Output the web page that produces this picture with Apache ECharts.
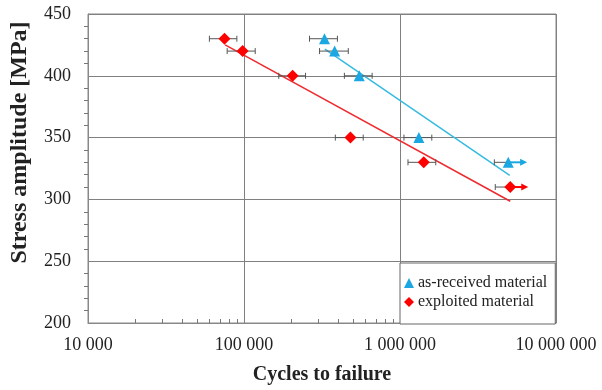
<!DOCTYPE html>
<html>
<head>
<meta charset="utf-8">
<script src="https://cdn.jsdelivr.net/npm/echarts@6/dist/echarts.min.js"></script>
<style>
  html, body { margin: 0; padding: 0; background: #fff; }
  #chart { width: 602px; height: 390px; }
</style>
</head>
<body>
<div id="chart"></div>
<script>
// exploited material (red diamonds)
var redCycles = [75000, 98000, 205000, 481000, 1420000, 5090000];
var redStress = [430, 420, 400, 350, 330, 310];
var redLow = [60000, 78000, 167000, 385000, 1125000, 4080000];
var redHigh = [90000, 118000, 248000, 581000, 1695000, 6640000];
var redRunout = [0, 0, 0, 0, 0, 1];
var redTrend = [[75700, 425], [5090000, 298.5]];

// as-received material (blue triangles)
var blueCycles = [328000, 381000, 548000, 1321000, 4944000];
var blueStress = [430, 420, 400, 350, 330];
var blueLow = [263000, 305000, 440000, 1060000, 4025000];
var blueHigh = [397000, 466000, 663000, 1599000, 6530000];
var blueRunout = [0, 0, 0, 0, 1];
var blueTrend = [[330000, 421.5], [5050000, 319.5]];

var decades = [10000, 100000, 1000000];
var minorSteps = [2, 3, 4, 5, 6, 7, 8, 9];

(function() {
  var font = 'Liberation Serif';
  var ink = '#222';
  var gridCol = '#808080';
  var redMark = '#ff0000';
  var redLine = '#ee2b2f';
  var blueMark = '#1aa7e2';
  var blueLine = '#35bbe0';

  var minorX = [];
  decades.forEach(function(d) {
    minorSteps.forEach(function(m) { minorX.push(d * m); });
  });

  function pairs(xs, ys) {
    return xs.map(function(x, i) { return [x, ys[i]]; });
  }
  function barRows(xs, ys, lo, hi, ro) {
    return xs.map(function(x, i) { return [x, ys[i], lo[i], hi[i], ro[i]]; });
  }
  function spaced(v) {
    return String(Math.round(v)).replace(/\B(?=(\d{3})+(?!\d))/g, ' ');
  }

  function errorBar(color) {
    return function(params, api) {
      var y = api.value(1);
      var c = api.coord([api.value(0), y]);
      var l = api.coord([api.value(2), y]);
      var h = api.coord([api.value(3), y]);
      var runout = api.value(4);
      var bar = { stroke: '#555', lineWidth: 1 };
      var kids = [
        { type: 'line', shape: { x1: l[0], y1: l[1] - 3, x2: l[0], y2: l[1] + 3 }, style: bar }
      ];
      if (runout) {
        kids.push({ type: 'line', shape: { x1: l[0], y1: l[1], x2: c[0], y2: c[1] }, style: bar });
        kids.push({ type: 'line', shape: { x1: c[0], y1: c[1], x2: h[0] - 5, y2: h[1] }, style: { stroke: color, lineWidth: 2 } });
        kids.push({ type: 'polygon', shape: { points: [[h[0], h[1]], [h[0] - 7, h[1] - 3.5], [h[0] - 7, h[1] + 3.5]] }, style: { fill: color } });
      } else {
        kids.push({ type: 'line', shape: { x1: l[0], y1: l[1], x2: h[0], y2: h[1] }, style: bar });
        kids.push({ type: 'line', shape: { x1: h[0], y1: h[1] - 3, x2: h[0], y2: h[1] + 3 }, style: bar });
      }
      return { type: 'group', children: kids };
    };
  }

  var chart = echarts.init(document.getElementById('chart'), null, { renderer: 'canvas' });
  chart.setOption({
    animation: false,
    textStyle: { fontFamily: font, color: ink },
    grid: {
      left: 85, right: 46, top: 14, bottom: 66,
      show: true, borderColor: '#888', borderWidth: 1
    },
    legend: {
      data: ['as-received material', 'exploited material'],
      orient: 'vertical',
      left: 400,
      top: 263,
      padding: [12, 8, 14, 4],
      itemGap: 3,
      itemWidth: 10,
      itemHeight: 10,
      backgroundColor: '#fff',
      borderColor: '#666',
      borderWidth: 1,
      borderRadius: 0,
      textStyle: { fontFamily: font, fontSize: 16, color: ink, padding: [0, 0, 0, -1] }
    },
    xAxis: [
      {
        type: 'log',
        logBase: 10,
        min: 10000,
        max: 10000000,
        name: 'Cycles to failure',
        nameLocation: 'middle',
        nameGap: 42,
        nameTextStyle: { fontFamily: font, fontSize: 20, fontWeight: 'bold', color: ink },
        axisLine: { lineStyle: { color: '#888' } },
        axisTick: { show: false },
        axisLabel: { fontFamily: font, fontSize: 18, color: ink, margin: 13, formatter: spaced },
        splitLine: { show: true, lineStyle: { color: gridCol, width: 1 } },
        minorSplitLine: { show: false }
      },
      {
        type: 'log',
        logBase: 10,
        min: 10000,
        max: 10000000,
        position: 'bottom',
        gridIndex: 0,
        axisLine: { show: false },
        axisLabel: { show: false },
        splitLine: { show: false },
        axisTick: { show: true, inside: true, length: 4, customValues: minorX, lineStyle: { color: '#777' } }
      }
    ],
    yAxis: {
      type: 'value',
      min: 200,
      max: 450,
      interval: 50,
      name: 'Stress amplitude [MPa]',
      nameLocation: 'middle',
      nameGap: 56,
      nameTextStyle: { fontFamily: font, fontSize: 24, fontWeight: 'bold', color: ink, padding: [0, 0, 0, 52] },
      axisLine: { show: true, lineStyle: { color: '#888' } },
      axisTick: { show: false },
      minorTick: { show: true, splitNumber: 5, length: 4, lineStyle: { color: '#777' } },
      axisLabel: { fontFamily: font, fontSize: 18, color: ink, margin: 17 },
      splitLine: { show: true, lineStyle: { color: gridCol, width: 1 } }
    },
    series: [
      {
        name: 'as-received trend',
        type: 'line',
        data: blueTrend,
        symbol: 'none',
        lineStyle: { color: blueLine, width: 1.5 },
        z: 2
      },
      {
        name: 'exploited trend',
        type: 'line',
        data: redTrend,
        symbol: 'none',
        lineStyle: { color: redLine, width: 1.5 },
        z: 2
      },
      {
        name: 'as-received error',
        type: 'custom',
        renderItem: errorBar(blueMark),
        data: barRows(blueCycles, blueStress, blueLow, blueHigh, blueRunout),
        encode: { x: 0, y: 1 },
        z: 3
      },
      {
        name: 'exploited error',
        type: 'custom',
        renderItem: errorBar(redMark),
        data: barRows(redCycles, redStress, redLow, redHigh, redRunout),
        encode: { x: 0, y: 1 },
        z: 3
      },
      {
        name: 'as-received material',
        type: 'scatter',
        symbol: 'triangle',
        symbolSize: 11,
        data: pairs(blueCycles, blueStress),
        itemStyle: { color: blueMark, opacity: 1 },
        z: 5
      },
      {
        name: 'exploited material',
        type: 'scatter',
        symbol: 'diamond',
        symbolSize: [12, 12],
        data: pairs(redCycles, redStress),
        itemStyle: { color: redMark, opacity: 1 },
        z: 5
      }
    ]
  });
  window.addEventListener('resize', function() { chart.resize(); });
})();
</script>
</body>
</html>
